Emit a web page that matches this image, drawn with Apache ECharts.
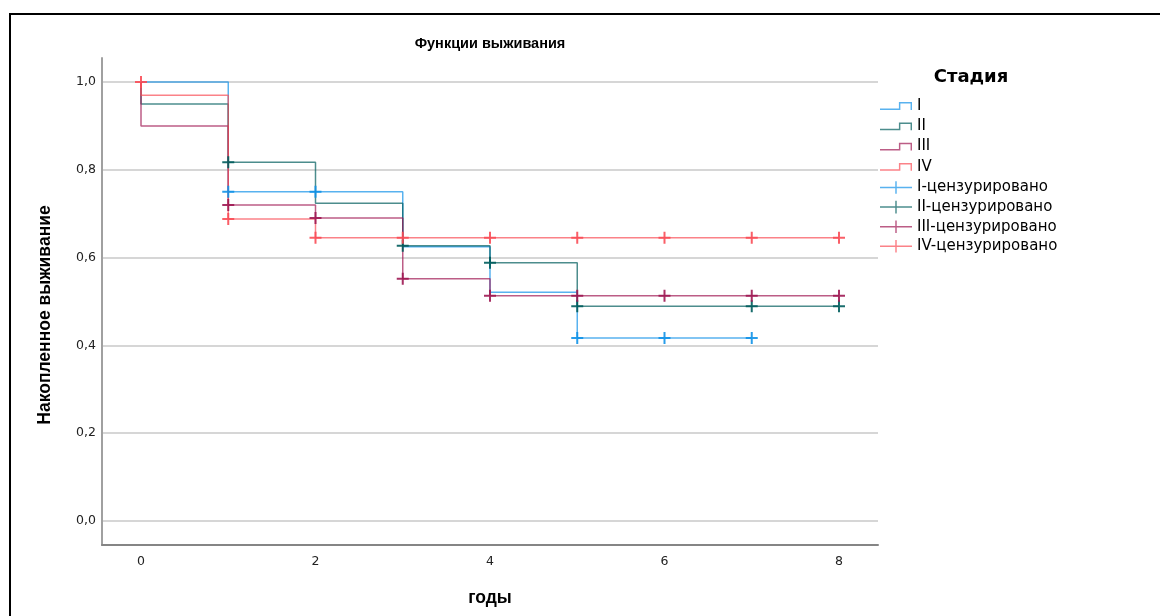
<!DOCTYPE html>
<html>
<head>
<meta charset="utf-8">
<script src="https://cdn.jsdelivr.net/npm/echarts@6/dist/echarts.min.js"></script>
<style>
html, body { margin: 0; padding: 0; background: #fff; width: 1160px; height: 616px; overflow: hidden; }
#frame { position: absolute; left: 9px; top: 13px; width: 1200px; height: 700px; border-top: 2px solid #000; border-left: 2px solid #000; }
#main { position: absolute; left: 0; top: 0; width: 1160px; height: 616px; }
</style>
</head>
<body>
<div id="frame"></div>
<div id="main"></div>
<script>
// оси
var xTicks = [0, 2, 4, 6, 8];
var yTicks = [0, 0.2, 0.4, 0.6, 0.8, 1.0];

// стадии
var stageNames = ['I', 'II', 'III', 'IV'];
var stageColors = ['#1192e8', '#005d5d', '#9f1853', '#fa4d56'];

// кривые выживания (время, накопленное выживание)
var timeI = [0, 1, 3, 4, 5, 7];
var survI = [1.0, 0.75, 0.625, 0.521, 0.417, 0.417];
var timeII = [0, 0, 1, 2, 3, 4, 5, 8];
var survII = [1.0, 0.95, 0.817, 0.724, 0.627, 0.588, 0.489, 0.489];
var timeIII = [0, 0, 1, 2, 3, 4, 8];
var survIII = [1.0, 0.90, 0.720, 0.690, 0.552, 0.513, 0.513];
var timeIV = [0, 0, 1, 2, 8];
var survIV = [1.0, 0.97, 0.688, 0.645, 0.645];

// цензурированные наблюдения
var censTimeI = [1, 2, 5, 6, 7];
var censSurvI = [0.75, 0.75, 0.417, 0.417, 0.417];
var censTimeII = [1, 3, 4, 5, 7, 8];
var censSurvII = [0.817, 0.627, 0.588, 0.489, 0.489, 0.489];
var censTimeIII = [1, 2, 3, 4, 5, 6, 7, 8];
var censSurvIII = [0.720, 0.690, 0.552, 0.513, 0.513, 0.513, 0.513, 0.513];
var censTimeIV = [0, 1, 2, 3, 4, 5, 6, 7, 8];
var censSurvIV = [1.0, 0.688, 0.645, 0.645, 0.645, 0.645, 0.645, 0.645, 0.645];

var curveTimes = [timeI, timeII, timeIII, timeIV];
var curveSurv = [survI, survII, survIII, survIV];
var censTimes = [censTimeI, censTimeII, censTimeIII, censTimeIV];
var censSurv = [censSurvI, censSurvII, censSurvIII, censSurvIV];

var FONT = '"Liberation Sans", Arial, sans-serif';
var WIDE = '"DejaVu Sans", Verdana, sans-serif';
var stepIcon = 'path://M0,6.5 L19.5,6.5 L19.5,0 L33,0 L33,8 L31.5,8 L31.5,1.5 L21,1.5 L21,8 L0,8 Z';
var crossIcon = 'path://M0,5.75 L15.75,5.75 L15.75,0 L17.25,0 L17.25,5.75 L33,5.75 L33,7.25 L17.25,7.25 L17.25,13 L15.75,13 L15.75,7.25 L0,7.25 Z';
var plusMark = 'path://M5,0 L7,0 L7,5 L12,5 L12,7 L7,7 L7,12 L5,12 L5,7 L0,7 L0,5 L5,5 Z';

function pairs(xs, ys) {
  return xs.map(function (x, i) { return [x, ys[i]]; });
}

var series = [];
stageNames.forEach(function (name, k) {
  series.push({
    name: name,
    type: 'line',
    step: 'end',
    data: pairs(curveTimes[k], curveSurv[k]),
    showSymbol: false,
    color: stageColors[k],
    lineStyle: { width: 1.5, opacity: 0.7 },
    emphasis: { disabled: true },
    z: 2
  });
});
stageNames.forEach(function (name, k) {
  series.push({
    name: name + '-цензурировано',
    type: 'scatter',
    data: pairs(censTimes[k], censSurv[k]),
    symbol: plusMark,
    symbolSize: 12,
    color: stageColors[k],
    itemStyle: { opacity: 0.9 },
    emphasis: { disabled: true },
    z: 3
  });
});

var myChart = echarts.init(document.getElementById('main'));
myChart.setOption({
  animation: false,
  grid: {
    left: 102,
    right: 282,
    top: 58,
    bottom: 71,
    containLabel: false,
    outerBoundsMode: 'none'
  },
  xAxis: {
    type: 'value',
    min: -0.447,
    max: 8.447,
    axisLine: { onZero: false, lineStyle: { color: '#858585', width: 2 } },
    axisTick: { show: false, customValues: xTicks },
    axisLabel: {
      customValues: xTicks,
      color: '#222',
      fontSize: 12.5,
      fontFamily: WIDE,
      margin: 10
    },
    splitLine: { show: false }
  },
  yAxis: {
    type: 'value',
    min: -0.0547,
    max: 1.0547,
    axisLine: { show: true, onZero: false, lineStyle: { color: '#a0a0a0', width: 2 } },
    axisTick: { show: false, customValues: yTicks },
    axisLabel: {
      customValues: yTicks,
      color: '#222',
      fontSize: 12.5,
      fontFamily: WIDE,
      margin: 6,
      formatter: function (v) { return v.toFixed(1).replace('.', ','); }
    },
    splitLine: { show: true, lineStyle: { color: '#c8c8c8', width: 1.5 } }
  },
  legend: [{
    left: 875,
    top: 93.5,
    orient: 'vertical',
    itemWidth: 32,
    itemHeight: 8,
    itemGap: 5.3,
    selectedMode: false,
    textStyle: { fontSize: 15, color: '#000', fontFamily: WIDE },
    data: stageNames.map(function (n) {
      return { name: n, icon: stepIcon, itemStyle: { opacity: 0.7 } };
    })
  }, {
    left: 875,
    top: 175,
    orient: 'vertical',
    itemWidth: 32,
    itemHeight: 13,
    itemGap: 4.6,
    selectedMode: false,
    textStyle: { fontSize: 15, color: '#000', fontFamily: WIDE },
    data: stageNames.map(function (n) {
      return { name: n + '-цензурировано', icon: crossIcon, itemStyle: { opacity: 0.7 } };
    })
  }],
  graphic: [
    { type: 'text', x: 490, y: 44, silent: true,
      style: { text: 'Функции выживания', align: 'center', verticalAlign: 'middle', font: 'bold 14.5px ' + FONT, fill: '#000' } },
    { type: 'text', x: 971, y: 77, silent: true,
      style: { text: 'Стадия', align: 'center', verticalAlign: 'middle', font: 'bold 18px ' + WIDE, fill: '#000' } },
    { type: 'text', x: 45, y: 315, rotation: Math.PI / 2, silent: true,
      style: { text: 'Накопленное выживание', align: 'center', verticalAlign: 'middle', font: 'bold 17.5px ' + FONT, fill: '#000' } },
    { type: 'text', x: 490, y: 598, silent: true,
      style: { text: 'годы', align: 'center', verticalAlign: 'middle', font: 'bold 17.5px ' + FONT, fill: '#000' } }
  ],
  series: series
});
</script>
</body>
</html>
